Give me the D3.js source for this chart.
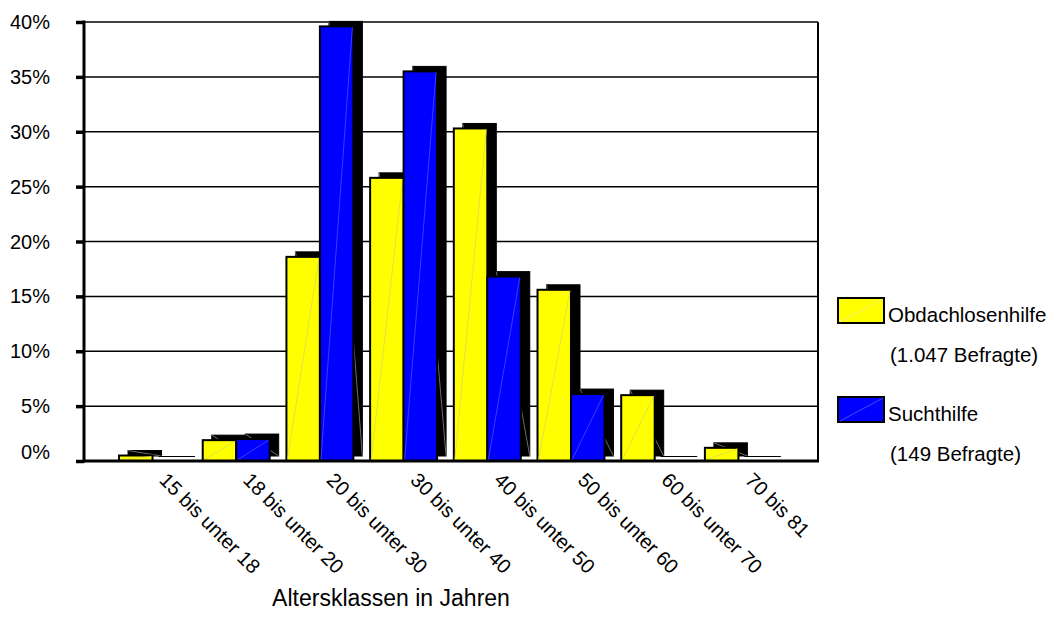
<!DOCTYPE html>
<html>
<head>
<meta charset="utf-8">
<script src="https://cdn.jsdelivr.net/npm/d3@7"></script>
<style>
  html, body { margin: 0; padding: 0; background: #fff; }
  svg { display: block; font-family: "Liberation Sans", Arial, sans-serif; }
</style>
</head>
<body>
<svg id="chart" width="1050" height="634"></svg>
<script>
// Age classes (x axis categories)
const categories = [
  "15 bis unter 18", "18 bis unter 20", "20 bis unter 30", "30 bis unter 40",
  "40 bis unter 50", "50 bis unter 60", "60 bis unter 70", "70 bis 81"
];
// Share of respondents per age class, in percent
const obdachlosenhilfe = [0.5, 1.9, 18.6, 25.8, 30.3, 15.6, 6.0, 1.2];
const suchthilfe       = [0.0, 2.0, 39.6, 35.5, 16.8, 6.1, 0.0, 0.0];

const seriesNames = ["Obdachlosenhilfe", "Suchthilfe"];
const seriesColors = ["#FFFF00", "#0000FF"];
const seriesNotes = ["(1.047 Befragte)", "(149 Befragte)"];
const yTicks = [0, 5, 10, 15, 20, 25, 30, 35, 40];
const xTitle = "Altersklassen in Jahren";

const rows = categories.map((c, i) => ({
  cat: c,
  values: [obdachlosenhilfe[i], suchthilfe[i]]
}));

const svg = d3.select("#chart");
const plot = { left: 84, right: 818, top: 22, bottom: 461 };
const depth = { dx: 9, dy: -5 };

const y = d3.scaleLinear().domain([0, 40]).range([plot.bottom, plot.top]);
const x = d3.scaleBand().domain(categories)
  .range([102.3, 788.6]).paddingInner(0.2).paddingOuter(0.2);
const xs = d3.scaleBand().domain(seriesNames).range([0, x.bandwidth()]);

// Horizontal gridlines
svg.append("g").selectAll("line").data(yTicks.filter(t => t > 0)).join("line")
  .attr("x1", plot.left).attr("x2", plot.right)
  .attr("y1", d => y(d)).attr("y2", d => y(d))
  .attr("stroke", "#000").attr("stroke-width", 1.5);

// Right border of the plot area
svg.append("line")
  .attr("x1", plot.right).attr("x2", plot.right)
  .attr("y1", plot.top).attr("y2", plot.bottom)
  .attr("stroke", "#000").attr("stroke-width", 2);

// Bars with a dark offset block behind each one
const groups = svg.append("g").selectAll("g").data(rows).join("g")
  .attr("transform", d => `translate(${x(d.cat)},0)`);

seriesNames.forEach((name, si) => {
  const g = groups.append("g");
  const bx = xs(name), bw = xs.bandwidth();
  const front = g.filter(d => d.values[si] > 0);
  const empty = g.filter(d => d.values[si] <= 0);
  // shadow block
  front.append("rect")
    .attr("x", bx + depth.dx)
    .attr("y", d => y(d.values[si]) + depth.dy)
    .attr("width", bw)
    .attr("height", d => y(0) - y(d.values[si]))
    .attr("fill", "#000").attr("stroke", "#000").attr("stroke-width", 1);
  front.append("line")
    .attr("x1", bx + depth.dx).attr("y1", d => y(d.values[si]) + depth.dy)
    .attr("x2", bx + depth.dx + bw).attr("y2", y(0) + depth.dy)
    .attr("stroke", "#888").attr("stroke-width", 0.8);
  // zero-height entries only leave the edge of their shadow
  empty.append("line")
    .attr("x1", bx + depth.dx - 3).attr("x2", bx + depth.dx + bw)
    .attr("y1", d => y(d.values[si]) + depth.dy + 0.5)
    .attr("y2", d => y(d.values[si]) + depth.dy + 0.5)
    .attr("stroke", "#000").attr("stroke-width", 1.2);
  // front bar
  front.append("rect")
    .attr("x", bx)
    .attr("y", d => y(d.values[si]))
    .attr("width", bw)
    .attr("height", d => y(0) - y(d.values[si]))
    .attr("fill", seriesColors[si])
    .attr("stroke", "#000").attr("stroke-width", 2);
  front.append("line")
    .attr("x1", bx + 1).attr("y1", y(0) - 1)
    .attr("x2", bx + bw - 1).attr("y2", d => y(d.values[si]) + 1)
    .attr("stroke", si === 0 ? "#d8d860" : "#4a4aff").attr("stroke-width", 0.8);
});

// Left axis with ticks
const yAxis = d3.axisLeft(y).tickValues(yTicks).tickSize(8).tickFormat("");
const yg = svg.append("g").attr("transform", `translate(${plot.left},0)`).call(yAxis);
yg.select(".domain").remove();
yg.selectAll(".tick line").attr("stroke", "#000").attr("stroke-width", 3.5);

svg.append("line")
  .attr("x1", plot.left).attr("x2", plot.left)
  .attr("y1", plot.top - 1.5).attr("y2", plot.bottom + 1.5)
  .attr("stroke", "#000").attr("stroke-width", 3);
svg.append("line")
  .attr("x1", plot.left).attr("x2", plot.right + 1)
  .attr("y1", plot.bottom).attr("y2", plot.bottom)
  .attr("stroke", "#000").attr("stroke-width", 3);

// Y tick labels
svg.append("g").selectAll("text").data(yTicks).join("text")
  .attr("x", 50)
  .attr("y", d => y(d) - (d === 0 ? 9 : 0))
  .attr("dy", "0.35em")
  .attr("text-anchor", "end")
  .attr("font-size", 20)
  .text(d => d + "%");

// Rotated category labels
svg.append("g").selectAll("text").data(categories).join("text")
  .attr("transform", d => `translate(${x(d) + x.bandwidth() / 2 + 17},${plot.bottom + 9}) rotate(45)`)
  .attr("dy", "0.8em")
  .attr("font-size", 20)
  .text(d => d);

// Axis title
svg.append("text")
  .attr("x", 391).attr("y", 598).attr("dy", "0.35em")
  .attr("text-anchor", "middle")
  .attr("font-size", 23)
  .text(xTitle);

// Legend
const legendTop = [298, 397];
const lg = svg.append("g");
seriesNames.forEach((name, i) => {
  const top = legendTop[i];
  lg.append("rect")
    .attr("x", 838).attr("y", top).attr("width", 46).attr("height", 25)
    .attr("fill", seriesColors[i]).attr("stroke", "#000").attr("stroke-width", 2);
  lg.append("line")
    .attr("x1", 840).attr("y1", top + 24).attr("x2", 883).attr("y2", top + 1)
    .attr("stroke", i === 0 ? "#e8e890" : "#5a5aff").attr("stroke-width", 0.8);
  lg.append("text")
    .attr("x", 888).attr("y", top + 17).attr("dy", "0.35em")
    .attr("font-size", 20.5).text(name);
  lg.append("text")
    .attr("x", 890).attr("y", top + 57).attr("dy", "0.35em")
    .attr("font-size", 20.5).text(seriesNotes[i]);
});
</script>
</body>
</html>
